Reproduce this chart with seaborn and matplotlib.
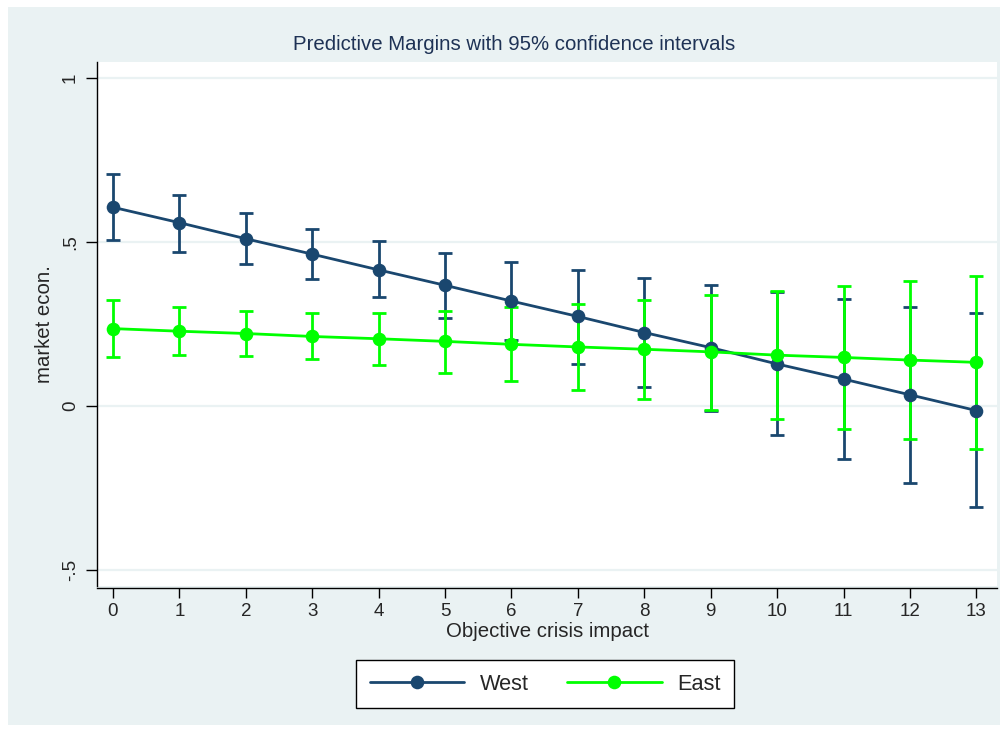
import matplotlib
matplotlib.use("Agg")
import matplotlib.pyplot as plt
import matplotlib.patches as mpatches
import numpy as np
import pandas as pd
import seaborn as sns

# values
impact = list(range(14))
west_mean = [0.606, 0.559, 0.510, 0.463, 0.415, 0.368, 0.320, 0.273, 0.224, 0.178, 0.128, 0.082, 0.034, -0.014]
west_lo = [0.505, 0.471, 0.434, 0.388, 0.331, 0.267, 0.200, 0.128, 0.057, -0.016, -0.088, -0.162, -0.236, -0.309]
west_hi = [0.708, 0.644, 0.589, 0.539, 0.502, 0.467, 0.440, 0.416, 0.391, 0.370, 0.349, 0.325, 0.303, 0.283]
east_mean = [0.236, 0.228, 0.221, 0.212, 0.205, 0.197, 0.188, 0.180, 0.173, 0.165, 0.155, 0.148, 0.140, 0.133]
east_lo = [0.150, 0.154, 0.153, 0.143, 0.125, 0.102, 0.077, 0.050, 0.021, -0.011, -0.040, -0.070, -0.100, -0.131]
east_hi = [0.323, 0.303, 0.289, 0.283, 0.284, 0.291, 0.301, 0.312, 0.323, 0.337, 0.350, 0.366, 0.380, 0.396]

yticks = [-0.5, 0, 0.5, 1]
ytick_labels = ["-.5", "0", ".5", "1"]

NAVY = "#1a476f"
LIME = "#00ff00"
BG = "#eaf2f3"

df = pd.DataFrame({
    "impact": impact * 2,
    "margin": west_mean + east_mean,
    "lo": west_lo + east_lo,
    "hi": west_hi + east_hi,
    "region": ["West"] * 14 + ["East"] * 14,
})

sns.set_style("white")
plt.rcParams["font.family"] = ["Liberation Sans", "DejaVu Sans"]

fig = plt.figure(figsize=(10.08, 7.33), dpi=100)
fig.patch.set_facecolor("white")
fig.patches.append(mpatches.Rectangle((8 / 1008, 8 / 733), 992 / 1008, 718 / 733,
                                      transform=fig.transFigure, facecolor=BG,
                                      edgecolor="none", zorder=-10))
ax = fig.add_axes([97 / 1008, (733 - 586) / 733, 900 / 1008, 524 / 733])
ax.set_facecolor("white")

for y in yticks:
    ax.axhline(y, color=BG, lw=1.6, zorder=0)

palette = {"West": NAVY, "East": LIME}
for reg in ["West", "East"]:
    sub = df[df.region == reg]
    ax.errorbar(sub.impact, sub.margin,
                yerr=[sub.margin - sub.lo, sub.hi - sub.margin],
                fmt="none", ecolor=palette[reg], elinewidth=2, capsize=5,
                capthick=2, zorder=2)

sns.lineplot(data=df, x="impact", y="margin", hue="region", palette=palette,
             hue_order=["West", "East"], marker="o", markersize=9.8,
             markeredgewidth=0, linewidth=2, ax=ax, zorder=3, legend=False)

ax.set_xlim(-0.24, 13.31)
ax.set_ylim(-0.549, 1.049)
ax.set_xticks(impact)
ax.set_yticks(yticks)
ax.set_yticklabels(ytick_labels, rotation=90, va="center")
ax.tick_params(axis="both", labelsize=13.5, color="black", width=1, direction="out",
               bottom=True, left=True)
ax.tick_params(axis="y", length=8, pad=5)
ax.tick_params(axis="x", length=7, pad=4)

for s in ["top", "right"]:
    ax.spines[s].set_visible(False)
ax.spines["left"].set_color("black")
ax.spines["bottom"].set_color("black")
ax.spines["left"].set_linewidth(1)
ax.spines["bottom"].set_linewidth(1)
ax.spines["bottom"].set_position(("outward", 1.5))

ax.set_xlabel("Objective crisis impact", fontsize=14.7, labelpad=1)
ax.set_ylabel("market econ.", fontsize=14.7, labelpad=6)

fig.text(514 / 1008, 1 - 45 / 733, "Predictive Margins with 95% confidence intervals",
         ha="center", va="center", fontsize=14.7, color="#1e3255")

handles = [
    plt.Line2D([], [], color=NAVY, lw=2, marker="o", markersize=9.8, markeredgewidth=0),
    plt.Line2D([], [], color=LIME, lw=2, marker="o", markersize=9.8, markeredgewidth=0),
]
leg = fig.legend(handles, ["West", "East"], loc="center",
                 bbox_to_anchor=(545 / 1008, 1 - 684 / 733), ncol=2, fontsize=15.7,
                 frameon=True, fancybox=False, edgecolor="black", facecolor="white",
                 handlelength=4.35, handletextpad=0.7, columnspacing=1.75,
                 borderpad=0.62)
leg.get_frame().set_linewidth(1)
leg.get_frame().set_alpha(1)

fig.savefig("out.png", dpi=100)
